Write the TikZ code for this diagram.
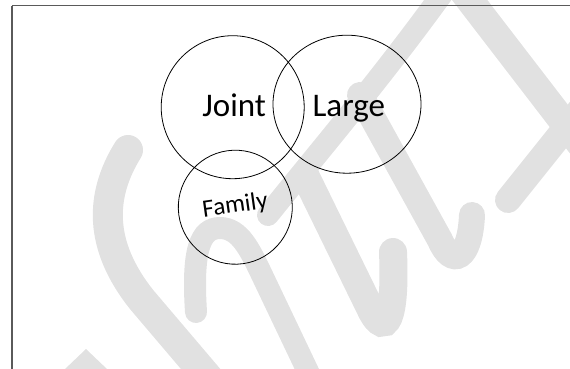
\documentclass[tikz,border=0pt]{standalone}
\usepackage{fontspec}
\setmainfont{Carlito}
\usetikzlibrary{shapes.geometric}
\definecolor{wmgray}{RGB}{225,225,225}
\definecolor{framegray}{RGB}{90,90,90}
\tikzset{
  wm/.style={draw=wmgray, line width=26pt, line cap=round},
  setcircle/.style={draw=black, line width=0.8pt, inner sep=0pt},
  bigtext/.style={font=\fontsize{33}{38}\selectfont, text depth=0pt},
  smalltext/.style={font=\fontsize{25}{30}\selectfont}
}
\begin{document}
\begin{tikzpicture}[x=1pt,y=-1pt]
\useasboundingbox (0,0) rectangle (570,368);
\clip (0,0) rectangle (570,368);
% watermark strokes
\draw[wm, line width=30pt] (128,150) .. controls (100,195) and (98,245) .. (142,300) -- (210,380);
\fill[wmgray] (64,370) -- (86,349) -- (108,370) -- cycle;
\draw[wm, line width=22pt] (196,312) .. controls (192,250) and (200,228) .. (220,228) .. controls (240,228) and (250,250) .. (262,275) -- (312,380);
\draw[wm, line width=22pt] (268,215) .. controls (320,150) and (380,80) .. (445,-10);
\draw[wm, line width=28pt] (305,175) -- (372,312) .. controls (385,336) and (396,322) .. (393,252);
\draw[wm, line width=26pt] (360,95) -- (440,240) .. controls (452,268) and (470,260) .. (472,215);
\draw[wm, line width=28pt] (462,-10) -- (585,150);
\draw[wm, line width=26pt] (508,200) -- (580,110);
% frame
\draw[framegray, line width=1.3pt] (12,5.5) -- (580,5.5);
\draw[framegray, line width=1.3pt] (12,5.5) -- (12,380);
% sets
\node[setcircle, circle, minimum size=143pt, bigtext, text height=19pt] (joint) at (232.7,107.2) {\hspace*{3pt}Joint};
\node[setcircle, ellipse, minimum width=148pt, minimum height=138pt, bigtext, text height=24.6pt] (large) at (347,104.2) {\hspace*{3.6pt}Large};
\node[setcircle, circle, minimum size=114pt, smalltext, text height=16pt, text depth=5.4pt, rotate=8] (family) at (235.3,207.2) {Family};
\end{tikzpicture}
\end{document}
